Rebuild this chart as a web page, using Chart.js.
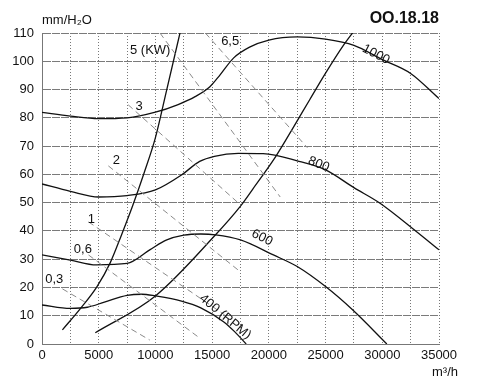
<!DOCTYPE html>
<html>
<head>
<meta charset="utf-8">
<script src="https://cdn.jsdelivr.net/npm/chart.js@4.4.0/dist/chart.umd.min.js"></script>
<style>
  html, body { margin: 0; padding: 0; background: #fff; }
  canvas { display: block; }
</style>
</head>
<body>
<canvas id="fanChart" width="478" height="380"></canvas>
<script>
// flow in m3/h, pressure in mm H2O
const rpm1000Flow = [0, 2500, 5000, 7500, 10000, 12000, 13500, 14800, 15700, 16900, 18300, 20000, 22500, 25000, 27500, 30000, 32500, 35000];
const rpm1000Press = [81.9, 80.6, 79.7, 80.0, 82.0, 84.7, 87.5, 91.0, 95.2, 101.2, 105.0, 107.5, 108.6, 107.8, 105.6, 100.6, 95.7, 86.8];

const rpm800Flow = [0, 2500, 5000, 7500, 10000, 12300, 13900, 15200, 17300, 19500, 22500, 25000, 27500, 29800, 33000, 35000];
const rpm800Press = [56.6, 54.0, 52.0, 52.5, 54.5, 59.8, 64.6, 66.4, 67.4, 67.3, 64.8, 61.6, 55.3, 49.8, 39.8, 33.3];

const rpm600Flow = [0, 2500, 4800, 7500, 9500, 11000, 12500, 14000, 15300, 17500, 20400, 22500, 25000, 27400, 30400];
const rpm600Press = [31.5, 29.7, 28.0, 28.5, 33.3, 36.8, 38.5, 38.9, 38.6, 36.8, 31.5, 27.4, 20.3, 12.0, 0];

const rpm400Flow = [0, 2500, 4000, 5500, 7500, 8800, 10000, 12300, 14000, 16000, 17000, 18000];
const rpm400Press = [13.8, 12.6, 13.0, 14.8, 17.2, 17.6, 17.0, 15.2, 12.8, 7.9, 4.3, 0];

// system resistance curves
const sysAFlow = [1800, 3400, 4850, 6000, 7000, 8000, 9000, 10000, 11000, 12200];
const sysAPress = [5, 12.6, 20.3, 28.6, 38.5, 49, 60.5, 73, 90, 110.6];
const sysBFlow = [4700, 10000, 15200, 17500, 18600, 20600, 22200, 23600, 25000, 26600, 27600];
const sysBPress = [4, 17, 38.2, 48.8, 54.9, 66.3, 76.9, 86.4, 95.8, 105.8, 111.2];

// absorbed power lines (kW)
const powerLabels = ['0,3', '0,6', '1', '2', '3', '5 (KW)', '6,5'];
const powerStartFlow = [1800, 4100, 4100, 5850, 7600, 10400, 14400];
const powerStartPress = [19.5, 31.5, 43.2, 63, 84.6, 110, 110];
const powerEndFlow = [9500, 13900, 16100, 17500, 17500, 21000, 23400];
const powerEndPress = [1.4, 2.1, 10.3, 25.5, 49.2, 52, 69.4];
const powerLabelFlow = [1080, 3600, 4350, 6550, 8570, 9540, 16590];
const powerLabelPress = [22.7, 33.3, 43.9, 64.8, 83.9, 103.7, 106.9];

const rpmLabels = ['1000', '800', '600', '400 (RPM)'];
const rpmLabelFlow = [29450, 24400, 19400, 16150];
const rpmLabelPress = [102.4, 63.6, 37.6, 9.6];
const rpmLabelAngle = [27, 22, 27, 40];

const FONT = '"Liberation Sans", Arial, sans-serif';

function pts(xs, ys) {
    return xs.map((v, i) => ({ x: v, y: ys[i] }));
}

function curve(xs, ys) {
    return {
        data: pts(xs, ys),
        showLine: true,
        borderColor: '#111',
        borderWidth: 1.3,
        pointRadius: 0,
        cubicInterpolationMode: 'monotone',
    };
}

const datasets = [];
for (let i = 0; i < powerLabels.length; i++) {
    datasets.push({
        data: [
            { x: powerStartFlow[i], y: powerStartPress[i] },
            { x: powerEndFlow[i], y: powerEndPress[i] },
        ],
        showLine: true,
        borderColor: '#8a8a8a',
        borderWidth: 1,
        borderDash: [6, 4],
        pointRadius: 0,
    });
}
datasets.push(curve(rpm1000Flow, rpm1000Press));
datasets.push(curve(rpm800Flow, rpm800Press));
datasets.push(curve(rpm600Flow, rpm600Press));
datasets.push(curve(rpm400Flow, rpm400Press));
datasets.push(curve(sysAFlow, sysAPress));
datasets.push(curve(sysBFlow, sysBPress));

const annotations = {
    id: 'annotations',
    afterDatasetsDraw(chart) {
        const { ctx, chartArea, scales: { x, y } } = chart;
        ctx.save();
        ctx.fillStyle = '#111';
        ctx.font = '13px ' + FONT;
        ctx.textAlign = 'center';
        ctx.textBaseline = 'middle';
        powerLabels.forEach((t, i) => {
            ctx.fillText(t, x.getPixelForValue(powerLabelFlow[i]), y.getPixelForValue(powerLabelPress[i]));
        });
        rpmLabels.forEach((t, i) => {
            ctx.save();
            ctx.translate(x.getPixelForValue(rpmLabelFlow[i]), y.getPixelForValue(rpmLabelPress[i]));
            ctx.rotate(rpmLabelAngle[i] * Math.PI / 180);
            ctx.fillText(t, 0, 0);
            ctx.restore();
        });
        // axis titles
        ctx.textAlign = 'left';
        ctx.fillText('mm/H₂O', chartArea.left, 20);
        ctx.textAlign = 'right';
        ctx.fillText('m³/h', chartArea.right + 19, 372);
        ctx.font = 'bold 16px ' + FONT;
        ctx.fillText('OO.18.18', chartArea.right, 19);
        ctx.restore();
    }
};

new Chart(document.getElementById('fanChart'), {
    type: 'scatter',
    data: { datasets: datasets },
    options: {
        responsive: false,
        animation: false,
        layout: { padding: { left: 0, top: 33, right: 39, bottom: 0 } },
        plugins: { legend: { display: false }, tooltip: { enabled: false } },
        scales: {
            x: {
                type: 'linear',
                min: 0,
                max: 35000,
                afterFit: (s) => { s.height = 36; },
                border: { display: true, color: '#777', dash: [1, 2] },
                grid: { display: true, color: '#777', lineWidth: 1, drawTicks: false },
                ticks: {
                    stepSize: 2500,
                    autoSkip: false,
                    maxRotation: 0,
                    padding: 4,
                    color: '#111',
                    font: { family: FONT, size: 13 },
                    callback: (v) => (v % 5000 === 0 ? String(v) : ''),
                },
            },
            y: {
                type: 'linear',
                min: 0,
                max: 110,
                afterFit: (s) => { s.width = 42; },
                border: { display: true, color: '#777', dash: [8, 1] },
                grid: { display: true, color: '#7a7a7a', lineWidth: 1, drawTicks: false },
                ticks: {
                    stepSize: 10,
                    padding: 8,
                    color: '#111',
                    font: { family: FONT, size: 13 },
                },
            },
        },
    },
    plugins: [annotations],
});
</script>
</body>
</html>
